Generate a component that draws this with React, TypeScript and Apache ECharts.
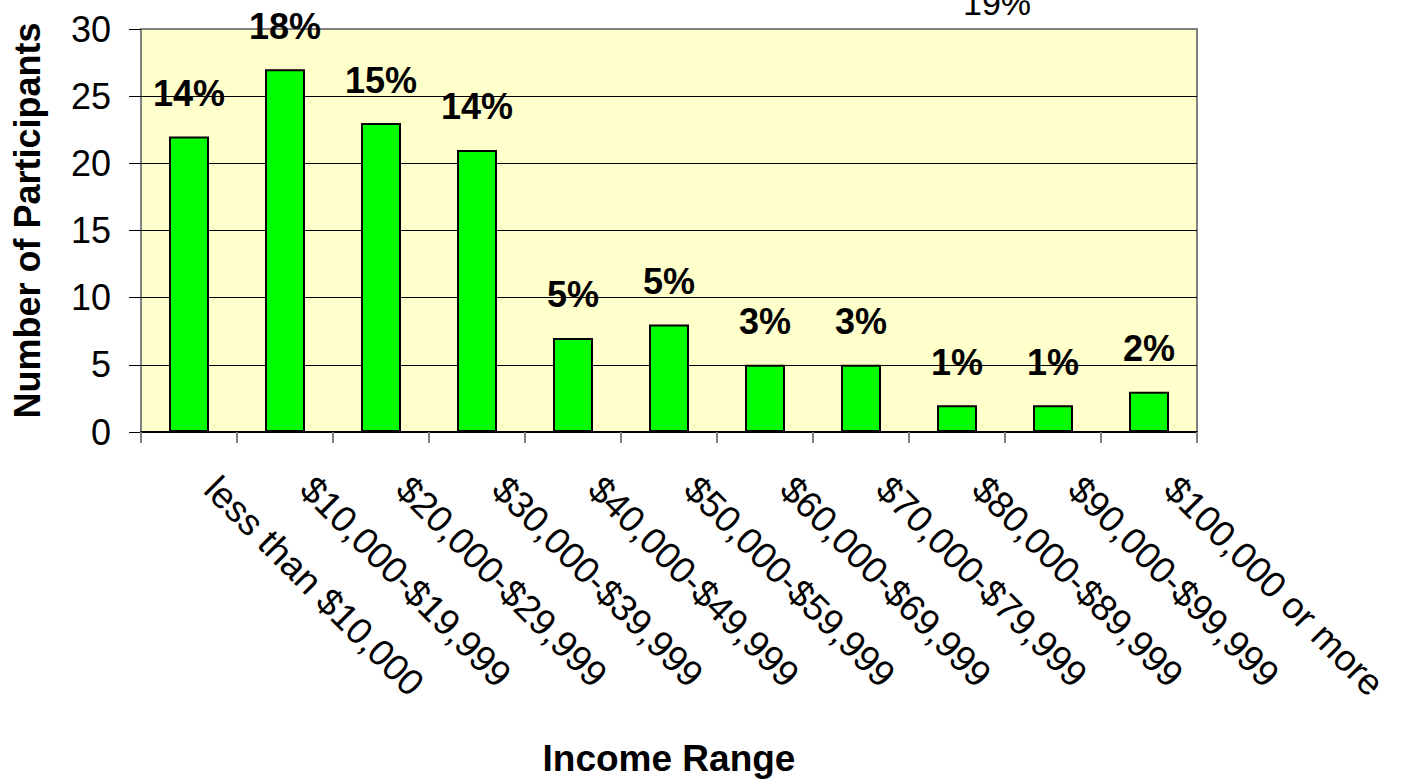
import React, { useEffect, useRef } from "react";
import * as echarts from "echarts";

const categories = [
  "less than $10,000",
  "$10,000-$19,999",
  "$20,000-$29,999",
  "$30,000-$39,999",
  "$40,000-$49,999",
  "$50,000-$59,999",
  "$60,000-$69,999",
  "$70,000-$79,999",
  "$80,000-$89,999",
  "$90,000-$99,999",
  "$100,000 or more",
];
const participants = [22, 27, 23, 21, 7, 8, 5, 5, 2, 2, 3];
const percentLabels = ["14%", "18%", "15%", "14%", "5%", "5%", "3%", "3%", "1%", "1%", "2%"];
const yMin = 0;
const yMax = 30;
const yInterval = 5;
const strayLabel = "19%";

const FONT = "'Liberation Sans', Arial, Helvetica, sans-serif";

export default function App() {
  const ref = useRef<HTMLDivElement>(null);
  useEffect(() => {
    if (!ref.current) return;
    const chart = echarts.init(ref.current, null, { renderer: "svg" });
    chart.setOption({
      animation: false,
      backgroundColor: "#ffffff",
      textStyle: { fontFamily: FONT },
      grid: {
        left: 141,
        right: 204,
        top: 29,
        bottom: 349,
        show: true,
        backgroundColor: "#FFFFCC",
        borderColor: "#808080",
        borderWidth: 2,
        containLabel: false,
        outerBoundsMode: "none",
      },
      xAxis: {
        type: "category",
        data: categories,
        boundaryGap: true,
        name: "Income Range",
        nameLocation: "middle",
        nameGap: 308,
        nameTextStyle: { fontFamily: FONT, fontSize: 37, fontWeight: "bold", color: "#000" },
        axisLine: { show: true, lineStyle: { color: "#000", width: 2 } },
        axisTick: { show: true, length: 11, lineStyle: { color: "#808080", width: 2 } },
        axisLabel: {
          interval: 0,
          rotate: -45,
          margin: 29,
          padding: [0, 0, 0, 31],
          fontFamily: FONT,
          fontSize: 37,
          color: "#000",
        },
        splitLine: { show: false },
      },
      yAxis: {
        type: "value",
        min: yMin,
        max: yMax,
        interval: yInterval,
        name: "Number of Participants",
        nameLocation: "middle",
        nameGap: 96,
        nameTextStyle: {
          fontFamily: FONT,
          fontSize: 36,
          fontWeight: "bold",
          color: "#000",
          padding: [0, 0, 0, 20],
        },
        axisLine: { show: false },
        axisTick: { show: true, length: 12, lineStyle: { color: "#000", width: 1 } },
        axisLabel: { margin: 30, fontFamily: FONT, fontSize: 36, color: "#000" },
        splitLine: {
          show: true,
          showMinLine: false,
          showMaxLine: false,
          lineStyle: { color: "#000", width: 1 },
        },
      },
      series: [
        {
          type: "bar",
          data: participants,
          barWidth: 40,
          itemStyle: { color: "#00FF00", borderColor: "#000", borderWidth: 2 },
          label: {
            show: true,
            position: "top",
            distance: 25,
            fontFamily: FONT,
            fontSize: 36,
            fontWeight: "bold",
            color: "#000",
            formatter: (p: any) => percentLabels[p.dataIndex],
          },
        },
      ],
      graphic: [
        {
          type: "text",
          x: 997,
          y: 3,
          style: {
            text: strayLabel,
            fontFamily: FONT,
            fontSize: 34,
            fill: "#000",
            textAlign: "center",
            textVerticalAlign: "middle",
            align: "center",
            verticalAlign: "middle",
          },
        },
      ],
    });
    return () => chart.dispose();
  }, []);
  return (
    <div
      ref={ref}
      style={{ position: "absolute", left: 0, top: 0, width: 1401, height: 781 }}
    />
  );
}
